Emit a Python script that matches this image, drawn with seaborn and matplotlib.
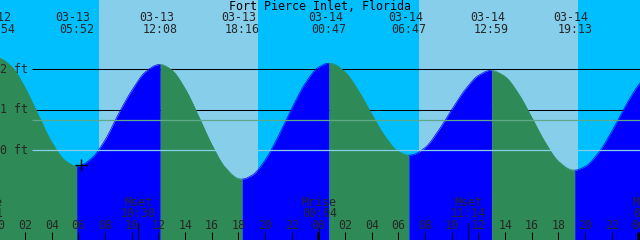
import numpy as np
import pandas as pd
import matplotlib
matplotlib.use("Agg")
import matplotlib.pyplot as plt
import matplotlib.transforms as mtransforms
import seaborn as sns

title = "Fort Pierce Inlet, Florida"

# tide height (ft) read hourly, hours counted from 03-13 00:00
hours = list(range(0, 50))
heights = [2.278, 2.06, 1.54, 0.86, 0.20, -0.25, -0.387, -0.19, 0.26, 0.90,
           1.48, 1.93, 2.117, 1.98, 1.52, 0.85, 0.14, -0.42, -0.697, -0.62,
           -0.24, 0.36, 1.04, 1.65, 2.05, 2.143, 1.93, 1.47, 0.89, 0.34,
           -0.03, -0.114, 0.07, 0.49, 1.01, 1.50, 1.85, 1.979, 1.82, 1.40,
           0.81, 0.20, -0.27, -0.483, -0.40, -0.06, 0.47, 1.08, 1.61, 1.96]

# high / low tides
ext_hours = [-0.10, 5.867, 12.133, 18.267, 24.783, 30.783, 36.983, 43.217, 49.80]
ext_heights = [2.28, -0.39, 2.12, -0.71, 2.15, -0.12, 1.98, -0.49, 2.05]
ext_dates = ["03-12", "03-13", "03-13", "03-13", "03-14", "03-14", "03-14", "03-14", "03-15"]
ext_times = ["23:54", "05:52", "12:08", "18:16", "00:47", "06:47", "12:59", "19:13", "01:48"]

# sun
sunrise_hours = [7.54, 31.54]
sunset_hours = [19.49, 43.49]

# moon
moon_events = ["Mrise", "Mset", "Mrise", "Mset", "Mrise"]
moon_times = ["23:01", "10:30", "00:04", "11:14", "00:53"]
moon_hours = [-0.98, 10.50, 24.067, 35.233, 48.883]

# axis ticks
tick_hours = list(range(0, 50, 2))
tick_labels = [f"{h % 24:02d}" for h in tick_hours]
ft_levels = [2, 1, 0]
ft_labels = ["2 ft", "1 ft", "0 ft"]
msl_level = 0.74

# "now" marker
now_hour, now_height = 6.16, -0.36

# ---------------------------------------------------------------
W, H = 640, 240
PX_PER_H = 13.333
X0 = -1.5           # pixel of hour 0
Y0 = 150.3          # pixel of 0 ft
PX_PER_FT = 40.5


def hx(px):
    return (px - X0) / PX_PER_H


def pchip(x, y, xs):
    """Monotone cubic curve through the read points (for smooth drawing)."""
    x = np.asarray(x, float)
    y = np.asarray(y, float)
    h = np.diff(x)
    d = np.diff(y) / h
    m = np.zeros_like(y)
    for k in range(1, len(x) - 1):
        if d[k - 1] * d[k] <= 0:
            m[k] = 0.0
        else:
            w1 = 2 * h[k] + h[k - 1]
            w2 = h[k] + 2 * h[k - 1]
            m[k] = (w1 + w2) / (w1 / d[k - 1] + w2 / d[k])
    m[0], m[-1] = d[0], d[-1]
    idx = np.clip(np.searchsorted(x, xs) - 1, 0, len(x) - 2)
    t = (xs - x[idx]) / h[idx]
    h00 = 2 * t**3 - 3 * t**2 + 1
    h10 = t**3 - 2 * t**2 + t
    h01 = -2 * t**3 + 3 * t**2
    h11 = t**3 - t**2
    return (h00 * y[idx] + h10 * h[idx] * m[idx] + h01 * y[idx + 1]
            + h11 * h[idx] * m[idx + 1])


sns.set_style("white")
plt.rcParams["font.family"] = ["DejaVu Sans Mono"]

fig = plt.figure(figsize=(W / 100, H / 100), dpi=100)
ax = fig.add_axes([0, 0, 1, 1])
xmin, xmax = hx(0), hx(W)
ymax = Y0 / PX_PER_FT
ymin = (Y0 - H) / PX_PER_FT

NIGHT = "#00BFFF"
DAY = "#87CEEB"
RISE = "#0000FF"
FALL = "#2E8B57"

ax.axvspan(xmin - 5, xmax + 5, color=NIGHT, lw=0, zorder=0)
for r, s in zip(sunrise_hours, sunset_hours):
    ax.axvspan(r, s, color=DAY, lw=0, zorder=0.5)

# reference lines behind the water
ax.hlines([2, 1], hx(32), xmax + 1, color="black", lw=0.75, zorder=1)

# water
df = pd.DataFrame({"t": hours + ext_hours, "h": heights + ext_heights})
df = df.sort_values("t").drop_duplicates("t").reset_index(drop=True)
for i in range(len(ext_hours) - 1):
    ta, tb = ext_hours[i], ext_hours[i + 1]
    tt = np.linspace(ta, tb, 200)
    hh = pchip(df.t.values, df.h.values, tt)
    seg = pd.DataFrame({"t": tt, "h": hh})
    col = RISE if ext_heights[i + 1] > ext_heights[i] else FALL
    ax.fill_between(seg.t, seg.h, ymin - 1, color=col, lw=0, zorder=2)
    sns.lineplot(data=seg, x="t", y="h", color=col, lw=0.5, ax=ax,
                 zorder=2.1, legend=False, sort=True, estimator=None)

ax.set_xlim(xmin, xmax)
ax.set_ylim(ymin, ymax)
ax.set_axis_off()

# datum and mean level lines on top
ax.hlines([0], hx(32), xmax + 1, color=DAY, lw=0.9, zorder=4)
ax.hlines([msl_level], hx(32), xmax + 1, color="#5FA88A", lw=0.9, zorder=4)

ax.plot([now_hour], [now_height], marker="+", ms=8, mew=1.0, color="black", zorder=5)

tr = mtransforms.blended_transform_factory(ax.transData, ax.transAxes)
tr_y = mtransforms.blended_transform_factory(ax.transAxes, ax.transData)


def fy(py):
    return 1 - py / H


fs = 8.4
ax.text(0.5, fy(6), title, transform=ax.transAxes, ha="center", va="center",
        fontsize=fs, color="black", zorder=6)
for t, d, tm in zip(ext_hours, ext_dates, ext_times):
    ax.text(t - 3.5 / PX_PER_H, fy(17.5), d, transform=tr, ha="center", va="center",
            fontsize=fs, zorder=6)
    ax.text(t, fy(29.5), tm, transform=tr, ha="center", va="center",
            fontsize=fs, zorder=6)

for lv, lb in zip(ft_levels, ft_labels):
    ax.text(0, lv, lb, transform=tr_y, ha="left", va="center", fontsize=fs, zorder=6)

for t, ev, tm in zip(moon_hours, moon_events, moon_times):
    ax.text(t, fy(202.5), ev, transform=tr, ha="center", va="center", fontsize=fs, zorder=6)
    ax.text(t, fy(213.5), tm, transform=tr, ha="center", va="center", fontsize=fs, zorder=6)
    ax.vlines([t], fy(240), fy(223), transform=tr, color="black", lw=0.75, zorder=6)

for t, lb in zip(tick_hours, tick_labels):
    ax.text(t, fy(225.5), lb, transform=tr, ha="center", va="center", fontsize=fs, zorder=6)
    lw = 2.0 if t % 24 == 0 else 0.75
    ax.vlines([t], fy(240), fy(232), transform=tr, color="black", lw=lw, zorder=6)

fig.savefig("out.png", dpi=100)
